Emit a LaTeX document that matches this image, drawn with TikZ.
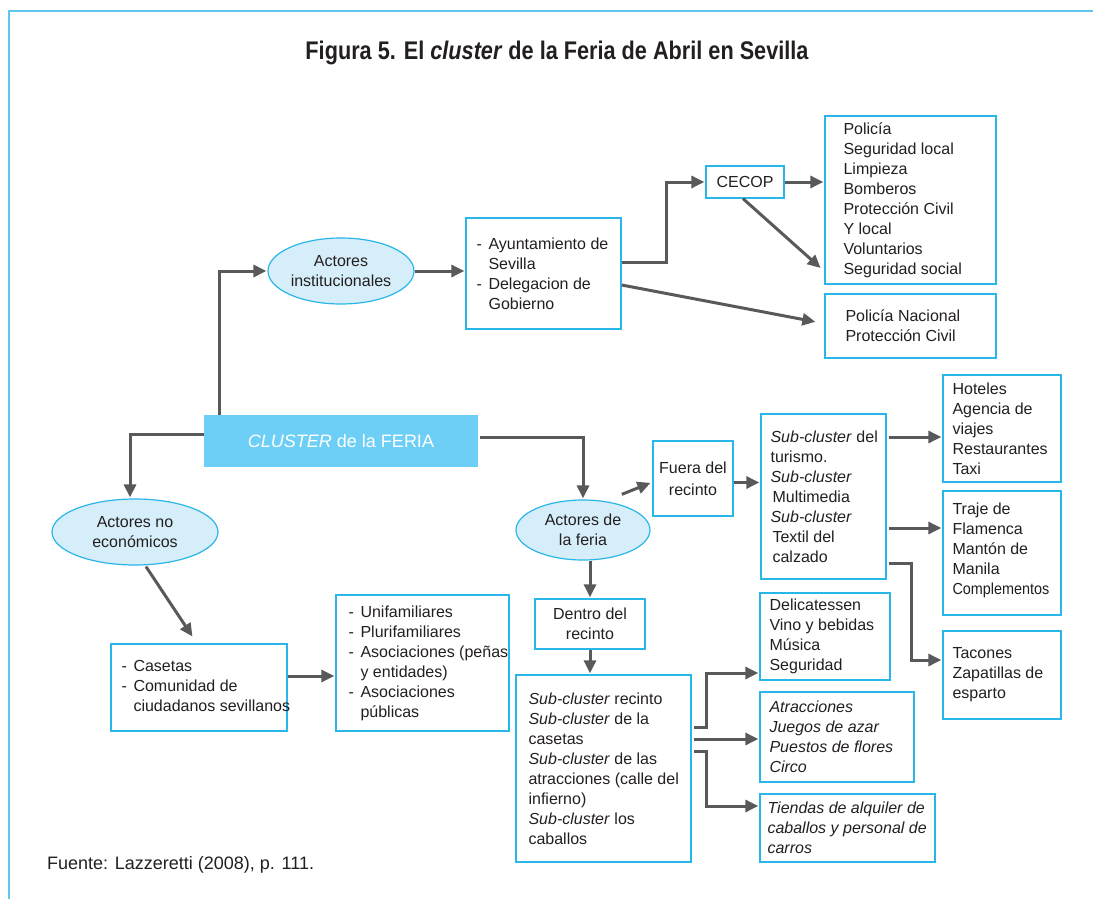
\documentclass[tikz,border=0pt]{standalone}
\usepackage{graphicx}
\usepackage{fontspec}
\setmainfont{Liberation Sans}
\usetikzlibrary{arrows.meta,shapes.geometric}

\definecolor{edgecyan}{RGB}{41,182,232}
\definecolor{framecyan}{RGB}{95,200,240}
\definecolor{ovalfill}{RGB}{214,238,250}
\definecolor{clusterfill}{RGB}{109,207,245}
\definecolor{linkgray}{RGB}{88,89,91}
\definecolor{ink}{RGB}{35,31,32}

\newcommand\bodyfont{\fontsize{16}{20}\selectfont}
\newcommand\itm{\makebox[12pt][l]{-}}
\newcommand\hang{\hspace*{12pt}}
\newcommand\subc{\textit{Sub-cluster}}

\begin{document}
\begin{tikzpicture}[x=1pt,y=-1pt,
  box/.style={draw=edgecyan, line width=1.3pt, rectangle, inner sep=0pt},
  oval/.style={draw=edgecyan, line width=1.2pt, fill=ovalfill, ellipse, inner sep=0pt},
  txt/.style={anchor=west, align=left, inner sep=0pt, font=\bodyfont, text=ink},
  ctxt/.style={align=center, inner sep=0pt, font=\bodyfont, text=ink},
  conn/.style={draw=linkgray, line width=3pt, -{Triangle[length=13pt,width=12pt]}, shorten >=1pt},
]
\useasboundingbox (0,0) rectangle (1093,899);
\fill[white] (0,0) rectangle (1093,899);

% page frame
\draw[framecyan, line width=2pt] (1093,11) -- (9,11) -- (9,899);

% title and source
\node[text=ink, inner sep=0pt] (title) at (557,53)
  {\resizebox{503pt}{\height}{\fontsize{25.5}{30}\selectfont\bfseries Figura 5. El \textit{cluster} de la Feria de Abril en Sevilla}};
\node[anchor=west, inner sep=0pt, text=ink, font=\fontsize{18}{22}\selectfont] (src) at (47,865)
  {Fuente: Lazzeretti (2008), p. 111.};

% central node
\node[fill=clusterfill, minimum width=274pt, minimum height=52pt, inner sep=0pt,
      text=white, font=\fontsize{18}{22}\selectfont] (clu) at (341,441) {\textit{CLUSTER} de la FERIA};

% ovals
\node[oval, minimum width=146pt, minimum height=66pt] (inst) at (341,271) {};
\node[ctxt] at (inst) {Actores\\institucionales};
\node[oval, minimum width=166pt, minimum height=66pt] (noeco) at (135,532) {};
\node[ctxt] at (noeco) {Actores no\\económicos};
\node[oval, minimum width=134pt, minimum height=60pt] (feria) at (583,530) {};
\node[ctxt] at (feria) {Actores de\\la feria};

% institutional branch
\node[box, minimum width=155pt, minimum height=111pt] (ayto) at (543.5,273.5) {};
\node[txt] at ([xshift=11pt]ayto.west) {\itm Ayuntamiento de\\\hang Sevilla\\\itm Delegacion de\\\hang Gobierno};
\node[box, minimum width=78pt, minimum height=32pt] (cecop) at (745,182) {};
\node[ctxt] at (cecop) {CECOP};
\node[box, minimum width=171pt, minimum height=168pt] (pol) at (910.5,200) {};
\node[txt] at ([xshift=19pt]pol.west) {Policía\\Seguridad local\\Limpieza\\Bomberos\\Protección Civil\\Y local\\Voluntarios\\Seguridad social};
\node[box, minimum width=171pt, minimum height=64pt] (nac) at (910.5,326) {};
\node[txt] at ([xshift=21pt]nac.west) {Policía Nacional\\Protección Civil};

% non-economic branch
\node[box, minimum width=176pt, minimum height=87pt] (cas) at (199,687.5) {};
\node[txt] at ([xshift=11pt,yshift=2pt]cas.west) {\itm Casetas\\\itm Comunidad de\\\hang ciudadanos sevillanos};
\node[box, minimum width=173pt, minimum height=136pt] (uni) at (422.5,663) {};
\node[txt] at ([xshift=13pt]uni.west) {\itm Unifamiliares\\\itm Plurifamiliares\\\itm Asociaciones (peñas\\\hang y entidades)\\\itm Asociaciones\\\hang públicas};

% fair actors branch
\node[box, minimum width=80pt, minimum height=75pt] (fuera) at (693,478.5) {};
\node[ctxt, font=\fontsize{16}{22}\selectfont] at (fuera) {Fuera del\\recinto};
\node[box, minimum width=125pt, minimum height=165pt] (tur) at (823.5,496.5) {};
\node[txt] at ([xshift=10pt]tur.west) {\subc{} del\\turismo.\\\subc\\\hspace*{2pt}Multimedia\\\subc\\\hspace*{2pt}Textil del\\\hspace*{2pt}calzado};
\node[box, minimum width=118pt, minimum height=107pt] (hot) at (1002,428.5) {};
\node[txt] at ([xshift=10pt]hot.west) {Hoteles\\Agencia de\\viajes\\Restaurantes\\Taxi};
\node[box, minimum width=118pt, minimum height=124pt] (traje) at (1002,553) {};
\node[txt] at ([xshift=10pt,yshift=3pt]traje.west) {Traje de\\Flamenca\\Mantón de\\Manila\\\scalebox{0.9}[1]{Complementos}};
\node[box, minimum width=118pt, minimum height=88pt] (tac) at (1002,675) {};
\node[txt] at ([xshift=10pt]tac.west) {Tacones\\Zapatillas de\\esparto};

\node[box, minimum width=110pt, minimum height=50pt] (dentro) at (590,624) {};
\node[ctxt] at (dentro) {Dentro del\\recinto};
\node[box, minimum width=175pt, minimum height=187pt] (rec) at (603.5,768.5) {};
\node[txt] at ([xshift=13pt]rec.west) {\subc{} recinto\\\subc{} de la\\casetas\\\subc{} de las\\atracciones (calle del\\infierno)\\\subc{} los\\caballos};
\node[box, minimum width=130pt, minimum height=87pt] (deli) at (825,636.5) {};
\node[txt] at ([xshift=10pt]deli.west) {Delicatessen\\Vino y bebidas\\Música\\Seguridad};
\node[box, minimum width=154pt, minimum height=90pt] (atr) at (837,737) {};
\node[txt] at ([xshift=10pt]atr.west) {\textit{Atracciones}\\\textit{Juegos de azar}\\\textit{Puestos de flores}\\\textit{Circo}};
\node[box, minimum width=175pt, minimum height=68pt] (tie) at (847.5,828) {};
\node[txt] at ([xshift=8pt]tie.west) {\textit{Tiendas de alquiler de}\\\textit{caballos y personal de}\\\textit{carros}};

% connectors: institutional side
\draw[conn] ([xshift=16pt]clu.north west) |- (inst.west);
\draw[conn] (inst.east) -- (inst.east -| ayto.west);
\draw[conn] ([yshift=11.5pt]ayto.east) -- ++(45,0) |- (cecop.west);
\draw[conn] (cecop.east) -- (cecop.east -| pol.west);
\draw[conn] ([xshift=-2pt]cecop.south) -- ([xshift=-3pt,yshift=16pt]pol.south west);
\draw[conn] ([yshift=-11.5pt]ayto.east) -- ([xshift=-8pt,yshift=4pt]nac.west);

% connectors: non-economic side
\draw[conn] ([yshift=7pt]clu.west) -| ([xshift=-5pt]noeco.north);
\draw[conn] ([xshift=11pt,yshift=-1pt]noeco.south) -- ([xshift=-6pt,yshift=6pt]cas.north);
\coordinate (casout) at ([yshift=11.5pt]cas.east);
\draw[conn] (casout) -- (casout -| uni.west);

% connectors: fair actors side
\draw[conn] ([xshift=2pt,yshift=4pt]clu.east) -| (feria.north);
\draw[conn] ([xshift=-9pt,yshift=14pt]feria.north east) -- ([xshift=-1pt,yshift=-4pt]fuera.west);
\coordinate (fuout) at ([yshift=-4pt]fuera.east);
\draw[conn] (fuout) -- (fuout -| tur.west);
\coordinate (tur1) at ([xshift=2pt,yshift=59.5pt]tur.east);
\coordinate (tur2) at ([xshift=2pt,yshift=-31.5pt]tur.east);
\draw[conn] (tur1) -- (tur1 -| hot.west);
\draw[conn] (tur2) -- (tur2 -| traje.west);
\draw[conn] ([xshift=2pt,yshift=-66.5pt]tur.east) -- ++(23,0) |- ([yshift=15pt]tac.west);

\draw[conn] (feria.south -| dentro.north) -- (dentro.north);
\draw[conn] (dentro.south) -- (dentro.south |- rec.north);
\coordinate (rec2) at ([xshift=2pt,yshift=29.5pt]rec.east);
\draw[conn] ([xshift=2pt,yshift=41.5pt]rec.east) -- ++(13,0) |- ([yshift=-36.5pt]deli.west);
\draw[conn] (rec2) -- (rec2 -| atr.west);
\draw[conn] ([xshift=2pt,yshift=17.5pt]rec.east) -- ++(13,0) |- ([yshift=22pt]tie.west);
\end{tikzpicture}
\end{document}
